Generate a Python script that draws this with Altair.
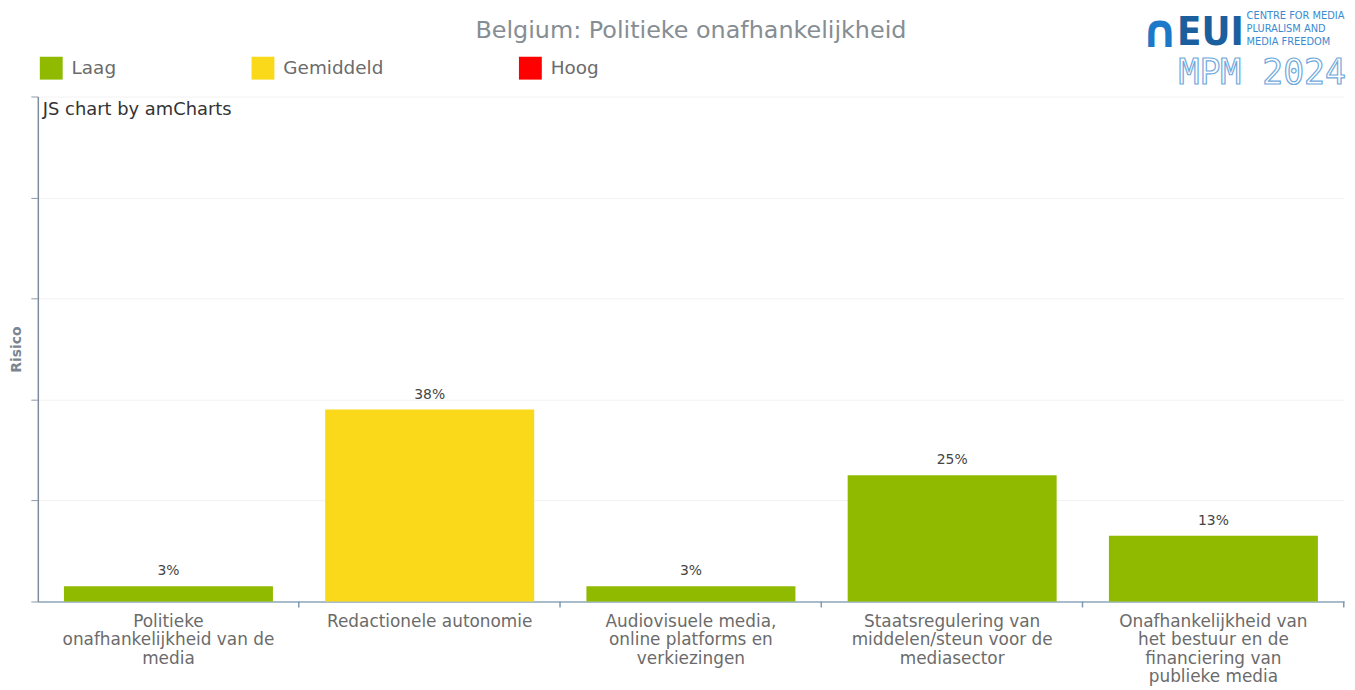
import altair as alt
import pandas as pd

# ---- data ----
category_lines = [
    ["Politieke", "onafhankelijkheid van de", "media"],
    ["Redactionele autonomie"],
    ["Audiovisuele media,", "online platforms en", "verkiezingen"],
    ["Staatsregulering van", "middelen/steun voor de", "mediasector"],
    ["Onafhankelijkheid van", "het bestuur en de", "financiering van", "publieke media"],
]
values = [3, 38, 3, 25, 13]
levels = ["Laag", "Gemiddeld", "Laag", "Laag", "Laag"]
level_names = ["Laag", "Gemiddeld", "Hoog"]
level_colors = ["#8fba00", "#fad91b", "#ff0000"]
y_ticks = [0, 20, 40, 60, 80, 100]
title_text = "Belgium: Politieke onafhankelijkheid"
logo_lines = ["CENTRE FOR MEDIA", "PLURALISM AND", "MEDIA FREEDOM"]

categories = ["|".join(l) for l in category_lines]
df = pd.DataFrame({"cat": categories, "value": values, "level": levels})
df["label"] = df["value"].astype(str) + "%"

FONT = "DejaVu Sans"
W, H = 1314, 508

xscale = alt.Scale(domain=categories, paddingInner=0.2, paddingOuter=0.1)
yscale = alt.Scale(domain=[0, 100])

base = alt.Chart(df)

bars = base.mark_bar().encode(
    x=alt.X("cat:N", scale=xscale, sort=None, title=None,
            axis=alt.Axis(labelExpr="split(datum.value, '|')", labelAngle=0,
                          labelFont=FONT, labelFontSize=17, labelColor="#6b6b6b",
                          labelLineHeight=18.5, labelPadding=12, labelLimit=400,
                          ticks=False, domainColor="#a9bccb", domainWidth=2,
                          labelBaseline="top")),
    y=alt.Y("value:Q", scale=yscale, title="Risico",
            axis=alt.Axis(values=y_ticks, labels=False, tickSize=7, tickColor="#8e9aa6",
                          tickWidth=1, domainColor="#7d8c9a", domainWidth=1.5,
                          grid=True, gridColor="#f2f2f2", titleFont=FONT,
                          titleFontSize=14, titleFontWeight="bold", titleColor="#7a8590",
                          titlePadding=7)),
    color=alt.Color("level:N",
                    scale=alt.Scale(domain=level_names, range=level_colors),
                    legend=alt.Legend(title=None, orient="none", legendX=2, legendY=-40,
                                      direction="horizontal", symbolType="square",
                                      symbolSize=529, symbolStrokeWidth=0,
                                      symbolOpacity=1, labelFont=FONT, labelFontSize=18.5,
                                      labelColor="#6b6b6b", labelOffset=9,
                                      columnPadding=136, padding=0)),
)

texts = base.mark_text(dy=-8, baseline="bottom", font=FONT, fontSize=14,
                       color="#444444").encode(
    x=alt.X("cat:N", scale=xscale, sort=None),
    y=alt.Y("value:Q", scale=yscale),
    text="label:N",
)

ticks = base.mark_rule(color="#7d99b3", strokeWidth=1.5, xOffset=26).encode(
    x=alt.X("cat:N", scale=xscale, sort=None, bandPosition=1),
    y=alt.value(H),
    y2=alt.value(H + 6),
)

title = alt.Chart(pd.DataFrame({"t": [title_text]})).mark_text(
    align="center", baseline="alphabetic", font=FONT, fontSize=24, color="#868d93"
).encode(x=alt.value(W / 2), y=alt.value(-59), text="t:N")

watermark = alt.Chart(pd.DataFrame({"t": ["JS chart by amCharts"]})).mark_text(
    align="left", baseline="top", font=FONT, fontSize=18, color="#333333"
).encode(x=alt.value(5), y=alt.value(5), text="t:N")

arch = alt.Chart(pd.DataFrame({"t": ["∩"]})).mark_text(
    align="left", baseline="alphabetic", font=FONT, fontSize=46, fontWeight="bold",
    color="#1c78c8"
).encode(x=alt.value(1110), y=alt.value(-50), text="t:N")

eui = alt.Chart(pd.DataFrame({"t": ["EUI"]})).mark_text(
    align="left", baseline="alphabetic", font="DejaVu Sans Condensed", fontSize=40,
    fontWeight="bold", color="#1c5f9e"
).encode(x=alt.value(1146), y=alt.value(-52), text="t:N")

small_layers = [
    alt.Chart(pd.DataFrame({"t": [line]})).mark_text(
        align="left", baseline="middle", font="DejaVu Sans Condensed", fontSize=11,
        color="#3a8ad0"
    ).encode(x=alt.value(1216), y=alt.value(-81 + 13 * i), text="t:N")
    for i, line in enumerate(logo_lines)
]

mpm = alt.Chart(pd.DataFrame({"t": ["MPM 2024"]})).mark_text(
    align="right", baseline="alphabetic", font="DejaVu Sans Mono", fontSize=35,
    fill="white", stroke="#6fa9dc", strokeWidth=1.2
).encode(x=alt.value(W + 2), y=alt.value(-13), text="t:N")

chart = alt.layer(bars, texts, ticks, title, watermark, arch, eui, *small_layers, mpm).properties(
    width=W, height=H,
    padding={"left": 30, "top": 87, "right": 3, "bottom": 87},
    autosize=alt.AutoSizeParams(type="none"),
).configure_view(stroke=None)

chart.save("out.html", embed_options={"renderer": "svg", "actions": False})
